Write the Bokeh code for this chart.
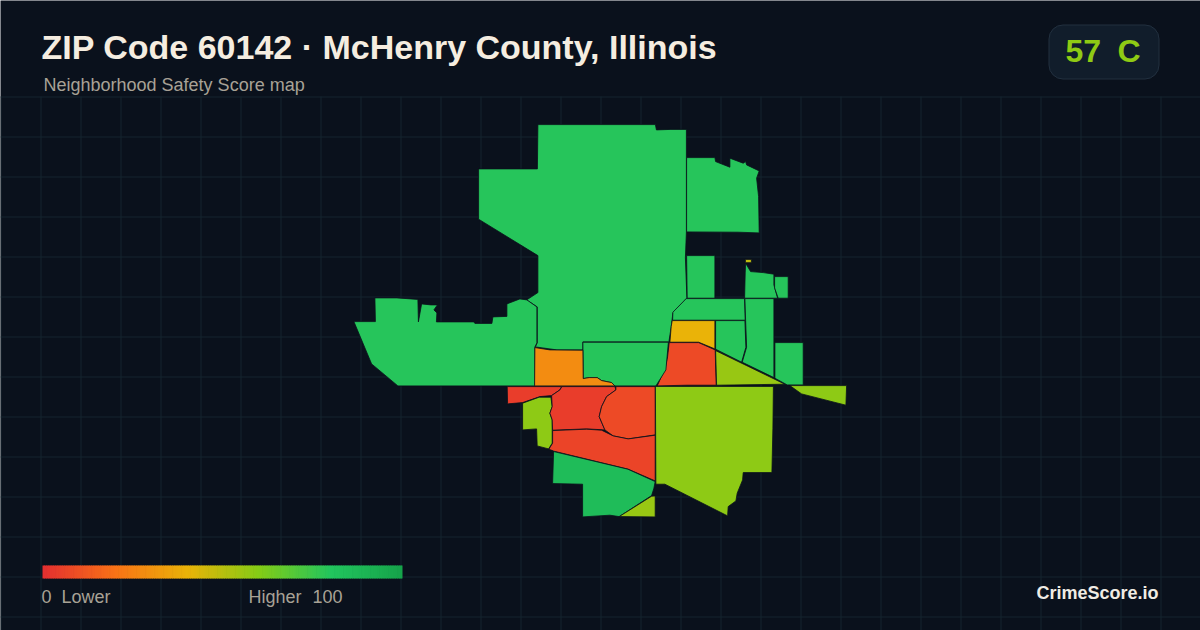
from bokeh.plotting import figure
from bokeh.models import LinearColorMapper, ColumnDataSource
from bokeh.embed import file_html
from bokeh.resources import INLINE
from bokeh.core.properties import value

# ---- scale ----
score_stops = [0, 20, 40, 60, 80, 100]
stop_colors = ["#e53030", "#f97316", "#eab308", "#84cc16", "#22c55e", "#16a34a"]

north_x = [538, 655.5, 656.5, 671, 686.5, 686.5, 685.5, 687, 673, 671.3, 669, 583, 583, 557, 535.5, 537.3, 537.3, 526.7, 538, 538, 478.7, 478.7, 537.5]
north_y = [124.7, 124.7, 130, 129.5, 129.5, 232, 258, 298, 313, 327, 342, 342, 350, 350, 347, 343, 307, 300, 292.7, 255.7, 219.3, 169, 169]
west_x = [354, 375.5, 375, 397, 418, 418.5, 421.7, 431, 437.5, 434, 437, 436.5, 474, 475, 492, 493, 507, 507, 520, 527, 537, 537, 535, 535, 398, 371.7]
west_y = [321.7, 321.7, 298, 298, 299.5, 322, 304, 305, 305, 310, 313, 322, 322, 323.5, 323.5, 317, 316.5, 304, 299, 300, 307, 343, 347, 386, 386, 364]
northeast_x = [686.7, 715, 715.7, 730, 730, 743.3, 745.7, 746.7, 759.3, 756.7, 758.7, 759.3, 738.3, 686.7]
northeast_y = [157.7, 157.7, 161.7, 167.3, 158.3, 163.3, 161.7, 165, 171, 178.3, 196.7, 233, 232.3, 232]
box_x = [686.7, 715, 715, 687.3]
box_y = [255.7, 255.7, 298.3, 298.3]
strip_x = [686.3, 744.7, 745.3, 672.7, 673]
strip_y = [298.7, 298.7, 320.3, 320.3, 312.3]
yellow_x = [672.3, 715, 715, 698.7, 670, 671.3]
yellow_y = [320.7, 320.7, 349, 342.3, 342.3, 326.7]
redeast_x = [669.3, 698.7, 715.3, 716.3, 687, 657.3, 665.3, 667.7]
redeast_y = [342.7, 342.7, 350, 385.3, 385.3, 386, 368.3, 356.7]
triangle_x = [715.7, 785, 716.7]
triangle_y = [350.7, 384.3, 385.3]
mid_x = [715.7, 745, 746, 741.7, 715.7]
mid_y = [320.7, 320.7, 347.3, 362.3, 349.3]
tall_x = [745, 774, 774, 742.3, 746.7, 745.7]
tall_y = [298.7, 298.7, 377.7, 362.3, 347.3, 320.3]
right_x = [775, 803.3, 803.3, 787.3, 775]
right_y = [342.7, 342.7, 385, 385, 378.3]
top_x = [745.7, 750.7, 763.3, 774, 774, 777.7, 744.7, 745.3]
top_y = [263.3, 271.7, 272.7, 274.3, 285, 298.3, 298.3, 273]
flag_x = [745.5, 751.5, 751.5, 745.5]
flag_y = [259.5, 259.5, 262.8, 262.8]
corner_x = [774.7, 788.3, 788.3, 778.3, 774.7]
corner_y = [276.7, 276.7, 298.3, 298.3, 288]
wedge_x = [790, 846.7, 846, 801.7]
wedge_y = [385.7, 385.7, 405.3, 394]
centre_x = [583, 668.5, 666, 656, 615, 611.7, 601.7, 597.3, 589.3, 583.3]
centre_y = [342.3, 342.3, 370, 386, 386, 382.7, 380.7, 377.7, 377.7, 378.7]
orange_x = [535, 550, 583, 583.3, 589.3, 597.3, 601.7, 611.7, 615, 534.7]
orange_y = [347.7, 350, 350.3, 378.7, 377.7, 377.7, 380.7, 382.7, 386, 386]
redstrip_x = [507.3, 561.7, 560, 551.7, 540, 522.7, 507.7]
redstrip_y = [386.7, 386.7, 390, 395.7, 396.7, 402.7, 404]
limewest_x = [522.7, 539.3, 551, 552.3, 550, 552.3, 552.3, 548.7, 537.3, 536.7, 522.7]
limewest_y = [403.3, 397.3, 397.3, 406.7, 413.3, 420, 443.3, 449, 446, 429, 430]
redmid_x = [562, 615, 616, 606.7, 601.7, 599.3, 605, 586.7, 552.7, 552.3, 550, 552.3, 551.7, 560]
redmid_y = [386.7, 386.7, 390, 396.7, 406.7, 416.7, 430, 429, 430.3, 420, 413.3, 406.7, 395.7, 390]
orangered_x = [616, 655.3, 655.3, 628.3, 613.3, 605, 599.3, 601.7, 606.7, 616]
orangered_y = [386.7, 386.7, 435, 439, 436, 430, 416.7, 406.7, 396.7, 390]
redsouth_x = [552.7, 586.7, 601.7, 613.3, 628.3, 655.3, 655.3, 628.3, 554, 549, 552.7]
redsouth_y = [430.7, 429.3, 430.3, 436, 439, 435.3, 481, 469.3, 451.3, 449.3, 443.3]
greensouth_x = [546.7, 554, 628, 655.3, 654, 651.7, 619.3, 610, 582.7, 582.7, 552.7, 553.7]
greensouth_y = [450, 451.7, 469.3, 481.7, 488.3, 495.7, 516.7, 515.3, 517, 484.3, 483.7, 451.7]
limesmall_x = [619.3, 651.7, 655.3, 655.3]
limesmall_y = [516.7, 496.3, 496, 517]
limebig_x = [655.5, 773.5, 773, 772, 743.3, 742.7, 737.3, 736, 728.3, 727.7, 665, 656]
limebig_y = [386.5, 386.5, 428.3, 472.7, 472.7, 480, 493.3, 501, 506.7, 516, 484.3, 484.3]

zone_xs = [north_x, west_x, northeast_x, box_x, strip_x, yellow_x, redeast_x, triangle_x, mid_x, tall_x,
           right_x, top_x, flag_x, corner_x, wedge_x, centre_x, orange_x, redstrip_x, limewest_x, redmid_x,
           orangered_x, redsouth_x, greensouth_x, limesmall_x, limebig_x]
zone_ys = [north_y, west_y, northeast_y, box_y, strip_y, yellow_y, redeast_y, triangle_y, mid_y, tall_y,
           right_y, top_y, flag_y, corner_y, wedge_y, centre_y, orange_y, redstrip_y, limewest_y, redmid_y,
           orangered_y, redsouth_y, greensouth_y, limesmall_y, limebig_y]
zone_scores = [79, 79, 79, 79, 79, 40, 8, 56, 79, 79,
               79, 79, 48, 79, 58, 79, 28, 4, 58, 4,
               8, 6, 85, 56, 58]

title_text = "ZIP Code 60142 · McHenry County, Illinois"
subtitle_text = "Neighborhood Safety Score map"
grade_score = "57"
grade_letter = "C"
scale_low = ["0", "Lower"]
scale_high = ["Higher", "100"]
brand_text = "CrimeScore.io"


def hex_rgb(c):
    return tuple(int(c[i:i + 2], 16) for i in (1, 3, 5))


def build_palette(n=256):
    out = []
    for k in range(n):
        s = 100 * k / (n - 1)
        for j in range(len(score_stops) - 1):
            if s <= score_stops[j + 1]:
                t = (s - score_stops[j]) / (score_stops[j + 1] - score_stops[j])
                a, b = hex_rgb(stop_colors[j]), hex_rgb(stop_colors[j + 1])
                out.append("#%02x%02x%02x" % tuple(round(a[i] + (b[i] - a[i]) * t) for i in range(3)))
                break
    return out


mapper = LinearColorMapper(palette=build_palette(), low=0, high=100)
BG = "#0a111c"
p = figure(width=1200, height=630, x_range=(0, 1200), y_range=(630, 0), output_backend="svg",
           toolbar_location=None, min_border=0, background_fill_color=BG, border_fill_color=BG,
           outline_line_color=None)
p.axis.visible = False
p.grid.visible = False

# background lattice
grid_x = [40 * i + 0.5 for i in range(31)]
grid_y = [96.5 + 40 * i for i in range(14)]
p.segment(grid_x, [96] * len(grid_x), grid_x, [630] * len(grid_x), line_color="#15242f", line_width=1)
p.segment([0] * len(grid_y), grid_y, [1200] * len(grid_y), grid_y, line_color="#15242f", line_width=1)

# zones
MAP_SHIFT = -0.6
src = ColumnDataSource(dict(xs=[[v + MAP_SHIFT for v in z] for z in zone_xs],
                            ys=[[v + MAP_SHIFT for v in z] for z in zone_ys], score=zone_scores))
p.patches("xs", "ys", source=src, fill_color={"field": "score", "transform": mapper},
          line_color="#0a111c", line_width=0.8)

FONT = value("Liberation Sans")


def label(x, y, text, size, color, style="normal", align="left"):
    p.text([x], [y], text=[text], text_font=FONT, text_font_size=size, text_color=color,
           text_font_style=style, text_align=align, text_baseline="middle")


label(41, 46, title_text, "34px", "#f5ede0", "bold")
label(43, 84, subtitle_text, "18px", "#a8a296")

# grade badge
p.quad(left=[1048.5], right=[1158.5], top=[24.5], bottom=[78.5], fill_color="#111d2b",
       line_color="#22303f", line_width=1, border_radius=14)
label(1065, 50, grade_score, "32px", "#8fca14", "bold")
label(1117, 50, grade_letter, "32px", "#8fca14", "bold")

# colour scale
bar_scores = [i * 0.5 for i in range(200)]
bar_left = [42 + 360 * s / 100 for s in bar_scores]
bar_right = [42 + 360 * (s + 0.7) / 100 for s in bar_scores]
bar_right[-1] = 402
bar_src = ColumnDataSource(dict(l=bar_left, r=bar_right, t=[565] * 200, b=[578] * 200, score=bar_scores))
p.quad(left="l", right="r", top="t", bottom="b", source=bar_src,
       fill_color={"field": "score", "transform": mapper}, line_color=None)

label(41, 596, scale_low[0], "18px", "#a8a296")
label(61, 596, scale_low[1], "18px", "#a8a296")
label(248, 596, scale_high[0], "18px", "#a8a296")
label(312, 596, scale_high[1], "18px", "#a8a296")

label(1158, 592, brand_text, "18px", "#f0ece4", "bold", "right")

html = file_html(p, INLINE)
html = html.replace("<body>", '<body style="margin:0;background:#0a111c">', 1)
open("out.html", "w").write(html)
